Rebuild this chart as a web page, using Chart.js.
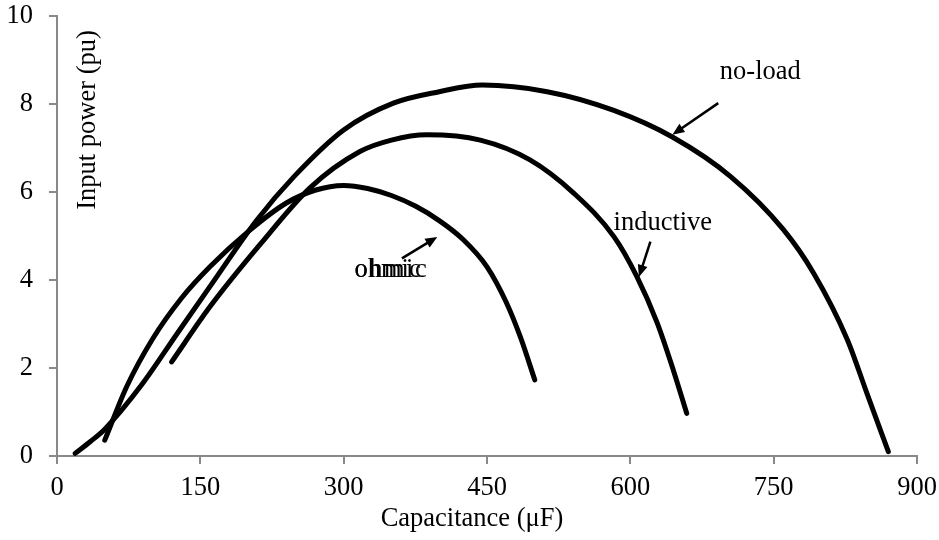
<!DOCTYPE html>
<html>
<head>
<meta charset="utf-8">
<script src="https://cdn.jsdelivr.net/npm/chart.js@4.4.1/dist/chart.umd.min.js"></script>
<style>
  html, body { margin: 0; padding: 0; background: #fff; }
  #wrap { width: 939px; height: 540px; }
</style>
</head>
<body>
<div id="wrap"><canvas id="chart" width="939" height="540"></canvas></div>
<script>
// --- 1. DATA ---
const NOLOAD_X = [19, 35, 50, 88, 126, 160, 209, 248, 300, 352, 400, 445, 513, 582, 644, 705, 760, 792, 827, 848, 870];
const NOLOAD_Y = [0.06, 0.33, 0.61, 1.6, 2.79, 3.85, 5.36, 6.35, 7.41, 8.02, 8.28, 8.43, 8.28, 7.86, 7.25, 6.35, 5.15, 4.15, 2.65, 1.4, 0.1];

const INDUCTIVE_X = [120, 160, 213, 265, 317, 350, 387, 443, 495, 541, 583, 607, 628, 645, 659];
const INDUCTIVE_Y = [2.14, 3.39, 4.82, 6.1, 6.92, 7.18, 7.30, 7.18, 6.73, 5.97, 4.98, 4.07, 3.03, 1.95, 0.97];

const OHMIC_X = [50, 73, 100, 130, 160, 200, 240, 270, 300, 325, 350, 375, 400, 425, 450, 470, 485, 500];
const OHMIC_Y = [0.36, 1.58, 2.66, 3.58, 4.30, 5.1, 5.75, 6.04, 6.15, 6.08, 5.92, 5.68, 5.35, 4.92, 4.3, 3.5, 2.7, 1.73];

const X_TICKS = [0, 150, 300, 450, 600, 750, 900];
const Y_TICKS = [0, 2, 4, 6, 8, 10];

const X_TITLE = 'Capacitance (\u03BCF)';
const Y_TITLE = 'Input power (pu)';

// curve labels with arrows, in data units: text position, arrow start, arrow tip
const LABELS = [
    { text: 'no-load',   at: [736, 8.73], from: [692, 8.02], to: [644, 7.30] },
    { text: 'inductive', at: [634, 5.30], from: [621, 4.87], to: [609, 4.07] },
    { text: 'ohmic',     at: [348, 4.23], from: [361, 4.49], to: [398, 4.98], doubled: true },
];

const FONT = '"Liberation Serif", "Times New Roman", serif';
const FONT_SIZE = 26.5;
const AXIS_GREY = '#898989';

function toPoints(xs, ys) {
    return xs.map((x, i) => ({ x: x, y: ys[i] }));
}

function curve(label, xs, ys) {
    return {
        label: label,
        data: toPoints(xs, ys),
        borderColor: '#000',
        borderWidth: 5,
        borderCapStyle: 'round',
        borderJoinStyle: 'round',
        pointRadius: 0,
        cubicInterpolationMode: 'monotone',
        fill: false
    };
}

// --- 2. TITLES AND ANNOTATIONS (drawn after the chart) ---
function drawArrow(ctx, x1, y1, x2, y2) {
    const ang = Math.atan2(y2 - y1, x2 - x1);
    const head = 12, half = 5;
    ctx.strokeStyle = '#000';
    ctx.fillStyle = '#000';
    ctx.lineWidth = 2.5;
    ctx.beginPath();
    ctx.moveTo(x1, y1);
    ctx.lineTo(x2 - Math.cos(ang) * head * 0.8, y2 - Math.sin(ang) * head * 0.8);
    ctx.stroke();
    ctx.beginPath();
    ctx.moveTo(x2, y2);
    ctx.lineTo(x2 - Math.cos(ang) * head - Math.sin(ang) * half, y2 - Math.sin(ang) * head + Math.cos(ang) * half);
    ctx.lineTo(x2 - Math.cos(ang) * head + Math.sin(ang) * half, y2 - Math.sin(ang) * head - Math.cos(ang) * half);
    ctx.closePath();
    ctx.fill();
}

const annotate = {
    id: 'annotate',
    afterDraw(chart) {
        const ctx = chart.ctx;
        const xs = chart.scales.x, ys = chart.scales.y;
        ctx.save();
        ctx.fillStyle = '#000';
        ctx.font = FONT_SIZE + 'px ' + FONT;
        ctx.textAlign = 'center';
        ctx.textBaseline = 'middle';

        // axis titles
        ctx.fillText(X_TITLE, 472, 519);
        ctx.save();
        ctx.translate(88, 120);
        ctx.rotate(-Math.PI / 2);
        ctx.fillText(Y_TITLE, 0, 0);
        ctx.restore();

        // curve labels
        LABELS.forEach(l => {
            const px = xs.getPixelForValue(l.at[0]);
            const py = ys.getPixelForValue(l.at[1]);
            if (l.doubled) {
                // the reference prints this label twice, slightly out of register
                ctx.textAlign = 'left';
                const w = ctx.measureText(l.text).width;
                ctx.fillText(l.text, px - w / 2 - 2, py);
                if ('letterSpacing' in ctx) ctx.letterSpacing = '1.5px';
                ctx.fillText(l.text, px - w / 2 - 2, py);
                if ('letterSpacing' in ctx) ctx.letterSpacing = '0px';
                ctx.textAlign = 'center';
            } else {
                ctx.fillText(l.text, px, py);
            }
            drawArrow(ctx,
                xs.getPixelForValue(l.from[0]), ys.getPixelForValue(l.from[1]),
                xs.getPixelForValue(l.to[0]), ys.getPixelForValue(l.to[1]));
        });
        ctx.restore();
    }
};

// --- 3. CHART ---
new Chart(document.getElementById('chart').getContext('2d'), {
    type: 'line',
    data: {
        datasets: [
            curve('no-load', NOLOAD_X, NOLOAD_Y),
            curve('inductive', INDUCTIVE_X, INDUCTIVE_Y),
            curve('ohmic', OHMIC_X, OHMIC_Y)
        ]
    },
    options: {
        responsive: false,
        animation: false,
        layout: { padding: { top: 16, right: 22, left: 0, bottom: 0 } },
        plugins: {
            legend: { display: false },
            tooltip: { enabled: false }
        },
        scales: {
            x: {
                type: 'linear',
                min: X_TICKS[0],
                max: X_TICKS[X_TICKS.length - 1],
                afterBuildTicks: s => { s.ticks = X_TICKS.map(v => ({ value: v })); },
                afterFit: s => { s.height = 84; s.paddingLeft = 0; s.paddingRight = 0; },
                grid: { drawOnChartArea: false, drawTicks: true, tickLength: 8, color: AXIS_GREY, lineWidth: 2 },
                border: { color: AXIS_GREY, width: 2 },
                ticks: { color: '#000', font: { family: FONT, size: FONT_SIZE }, padding: 8, maxRotation: 0 }
            },
            y: {
                type: 'linear',
                min: Y_TICKS[0],
                max: Y_TICKS[Y_TICKS.length - 1],
                afterBuildTicks: s => { s.ticks = Y_TICKS.map(v => ({ value: v })); },
                afterFit: s => { s.width = 57; s.paddingTop = 0; s.paddingBottom = 0; },
                grid: { drawOnChartArea: false, drawTicks: true, tickLength: 8, color: AXIS_GREY, lineWidth: 2 },
                border: { color: AXIS_GREY, width: 2 },
                ticks: { color: '#000', font: { family: FONT, size: FONT_SIZE }, padding: 16 }
            }
        }
    },
    plugins: [annotate]
});
</script>
</body>
</html>
